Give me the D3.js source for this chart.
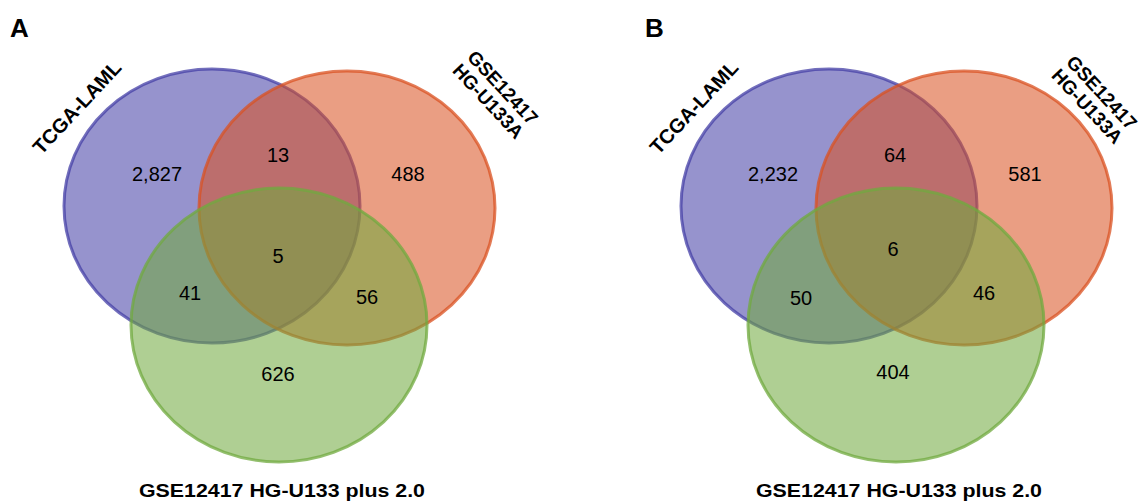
<!DOCTYPE html>
<html><head><meta charset="utf-8">
<script src="https://cdn.jsdelivr.net/npm/d3@7"></script>
<style>body{margin:0;background:#fff}</style></head>
<body><svg id="c" width="1143" height="501"></svg>
<script>
const panels = ["A","B"];
const setNames = ["TCGA-LAML","GSE12417\nHG-U133A","GSE12417 HG-U133 plus 2.0"];
const regions = ["blueOnly","blueRed","redOnly","all","blueGreen","redGreen","greenOnly"];
const valuesA = [2827,13,488,5,41,56,626];
const valuesB = [2232,64,581,6,50,46,404];
const panelValues = [valuesA, valuesB];

const svg = d3.select("#c");
const fmt = d3.format(",");
const colors = ["#443fa5","#d95221","#70aa3f"];
const ellipses = [{x:212,y:206},{x:347,y:208},{x:279,y:325}];
const RX = 148, RY = 137;
const labelPos = [[157,174],[278,155],[408,174],[278,256],[190,293],[367,297],[278,374]];
const offsetsB = [[-1,0],[0,0],[0,0],[-2,-7],[-6,5],[0,-4],[-2,-2]];
const panelX = [0,617];
const gseLabelPos = [[498,92],[480,97]];
const font = "Liberation Sans, Arial, sans-serif";

panels.forEach((p,pi)=>{
  const g = svg.append("g").attr("transform",`translate(${panelX[pi]},0)`);
  g.append("text").attr("x",pi?28:10).attr("y",37).text(p)
    .attr("font-family",font).attr("font-weight","bold").attr("font-size",26);
  g.selectAll("ellipse").data(ellipses).join("ellipse")
    .attr("cx",d=>d.x).attr("cy",d=>d.y).attr("rx",RX).attr("ry",RY)
    .attr("fill",(d,i)=>colors[i]).attr("fill-opacity",0.56)
    .attr("stroke",(d,i)=>colors[i]).attr("stroke-width",3).attr("stroke-opacity",0.75);
  g.selectAll("text.v").data(panelValues[pi]).join("text").attr("class","v")
    .attr("x",(d,i)=>labelPos[i][0]+(pi?offsetsB[i][0]:0))
    .attr("y",(d,i)=>labelPos[i][1]+(pi?offsetsB[i][1]:0))
    .attr("text-anchor","middle").attr("dy","0.35em")
    .attr("font-family",font).attr("font-size",20).text(d=>fmt(d));
  g.append("text").attr("transform","translate(82,112) rotate(-47)")
    .attr("text-anchor","middle").attr("font-family",font)
    .attr("font-weight","bold").attr("font-size",20).text(setNames[0]);
  const gp = gseLabelPos[pi];
  const t = g.append("text").attr("transform",`translate(${gp[0]},${gp[1]}) rotate(47)`)
    .attr("text-anchor","middle").attr("font-family",font)
    .attr("font-weight","bold").attr("font-size",19);
  setNames[1].split("\n").forEach((s,i)=>t.append("tspan").attr("x",0).attr("dy",i?"1.05em":0).text(s));
  g.append("text").attr("x",282).attr("y",497).attr("text-anchor","middle")
    .attr("font-family",font).attr("font-weight","bold").attr("font-size",19)
    .attr("textLength",286).attr("lengthAdjust","spacingAndGlyphs")
    .text(setNames[2]);
});
</script></body></html>
